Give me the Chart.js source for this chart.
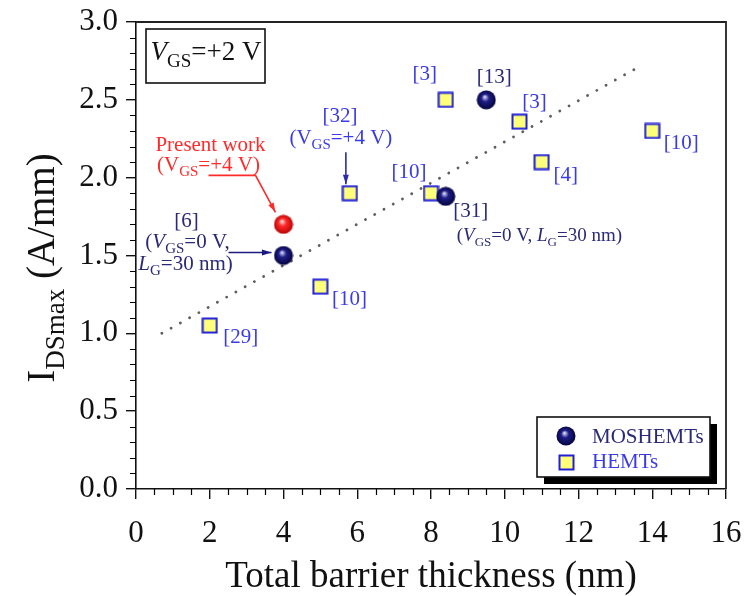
<!DOCTYPE html>
<html>
<head>
<meta charset="utf-8">
<script src="https://cdn.jsdelivr.net/npm/chart.js@4.4.0/dist/chart.umd.min.js"></script>
<style>
  html, body { margin: 0; padding: 0; background: #fff; }
  #c { display: block; }
</style>
</head>
<body>
<canvas id="c" width="745" height="596"></canvas>
<script>
// values
const moshemtX = [4, 8.4, 9.5];
const moshemtY = [1.5, 1.88, 2.5];
const moshemtRefs = ["[6]", "[31]", "[13]"];

const presentX = [4];
const presentY = [1.7];

const hemtX = [2, 5, 5.8, 8, 8.4, 10.4, 11, 14];
const hemtY = [1.05, 1.3, 1.9, 1.9, 2.5, 2.36, 2.1, 2.3];
const hemtRefs = ["[29]", "[10]", "[32]", "[10]", "[3]", "[3]", "[4]", "[10]"];

const trendX = [0.7, 13.7];
const trendY = [1.0, 2.72];

const xRange = [0, 16];
const yRange = [0, 3];

const SERIF = "'Liberation Serif', 'DejaVu Serif', serif";
const BLUE = "#3a3ae6";
const NAVY = "#2a2a78";
const RED = "#ff2a2a";

function pts(xs, ys) {
  return xs.map((x, i) => ({ x: x, y: ys[i] }));
}

function ball(hi, mid, edge) {
  const cv = document.createElement("canvas");
  cv.width = cv.height = 20;
  const g = cv.getContext("2d");
  const grd = g.createRadialGradient(8.5, 7, 0.5, 10, 10, 10);
  grd.addColorStop(0, hi);
  grd.addColorStop(0.35, mid);
  grd.addColorStop(1, edge);
  g.fillStyle = grd;
  g.beginPath();
  g.arc(10, 10, 9.5, 0, Math.PI * 2);
  g.fill();
  return cv;
}

function square() {
  const cv = document.createElement("canvas");
  cv.width = cv.height = 17;
  const g = cv.getContext("2d");
  g.fillStyle = "#ffff7a";
  g.fillRect(1, 1, 15, 15);
  g.strokeStyle = "#2020d8";
  g.lineWidth = 2;
  g.strokeRect(1.5, 1.5, 14, 14);
  return cv;
}

const navyBall = ball("#d4d4f4", "#1e1e88", "#03033a");
const redBall = ball("#ffd8d8", "#ff2a2a", "#b40000");
const hemtBox = square();

// text with subscripts; parts: [text, sub?, italic?]
function rich(ctx, parts, x, y, size, color, align) {
  const subSize = Math.round(size * 0.7);
  let w = 0;
  parts.forEach(p => {
    ctx.font = (p[2] ? "italic " : "") + (p[1] ? subSize : size) + "px " + SERIF;
    w += ctx.measureText(p[0]).width;
  });
  let cx = align === "left" ? x : x - w / 2;
  ctx.fillStyle = color;
  ctx.textAlign = "left";
  ctx.textBaseline = "middle";
  parts.forEach(p => {
    ctx.font = (p[2] ? "italic " : "") + (p[1] ? subSize : size) + "px " + SERIF;
    ctx.fillText(p[0], cx, y + (p[1] ? size * 0.32 : 0));
    cx += ctx.measureText(p[0]).width;
  });
}

function arrow(ctx, path, color) {
  ctx.strokeStyle = color;
  ctx.fillStyle = color;
  ctx.lineWidth = 1.6;
  ctx.beginPath();
  path.forEach((p, i) => (i ? ctx.lineTo(p[0], p[1]) : ctx.moveTo(p[0], p[1])));
  ctx.stroke();
  const a = path[path.length - 2], b = path[path.length - 1];
  const ang = Math.atan2(b[1] - a[1], b[0] - a[0]);
  ctx.beginPath();
  ctx.moveTo(b[0], b[1]);
  ctx.lineTo(b[0] - 10 * Math.cos(ang - 0.3), b[1] - 10 * Math.sin(ang - 0.3));
  ctx.lineTo(b[0] - 10 * Math.cos(ang + 0.3), b[1] - 10 * Math.sin(ang + 0.3));
  ctx.closePath();
  ctx.fill();
}

// label offsets in pixels from each mark
const hemtLabelOff = [[31, 12], [29, 13], [-10, -77], [-22, -21], [-21, -25], [15, -19], [24, 13], [29, 13]];
const moshemtLabelOff = [[-97, -34], [25, 15], [8, -22]];

const decorations = {
  id: "decorations",
  beforeDatasetsDraw(chart) {
    const ctx = chart.ctx, a = chart.chartArea;
    const xs = chart.scales.x, ys = chart.scales.y;
    ctx.save();
    ctx.strokeStyle = "#222";
    ctx.lineWidth = 1.8;
    ctx.beginPath();
    ctx.moveTo(a.left, a.top);
    ctx.lineTo(a.right, a.top);
    ctx.lineTo(a.right, a.bottom);
    ctx.stroke();
    // minor ticks
    ctx.lineWidth = 1.2;
    ctx.strokeStyle = "#000";
    ctx.beginPath();
    for (let v = 0.5; v < 16; v += 0.5) {
      if (v % 2 === 0) continue;
      const px = Math.round(xs.getPixelForValue(v)) + 0.5;
      ctx.moveTo(px, a.bottom);
      ctx.lineTo(px, a.bottom + 6);
    }
    for (let k = 1; k < 30; k++) {
      if (k % 5 === 0) continue;
      const py = Math.round(ys.getPixelForValue(k / 10)) + 0.5;
      ctx.moveTo(a.left, py);
      ctx.lineTo(a.left - 6, py);
    }
    ctx.stroke();
    ctx.restore();
  },
  afterDraw(chart) {
    const ctx = chart.ctx, a = chart.chartArea;
    const xs = chart.scales.x, ys = chart.scales.y;
    const P = (x, y) => [xs.getPixelForValue(x), ys.getPixelForValue(y)];
    ctx.save();

    // axis titles
    ctx.fillStyle = "#111";
    ctx.font = "37px " + SERIF;
    ctx.textAlign = "center";
    ctx.textBaseline = "middle";
    ctx.fillText("Total barrier thickness (nm)", (a.left + a.right) / 2, 577);
    ctx.save();
    ctx.translate(44, 268);
    ctx.rotate(-Math.PI / 2);
    rich(ctx, [["I"], ["DSmax", true], [" (A/mm)"]], 0, 0, 39, "#111");
    ctx.restore();

    // V_GS box
    ctx.strokeStyle = "#111";
    ctx.lineWidth = 1.6;
    ctx.strokeRect(146, 29, 119, 54);
    rich(ctx, [["V", false, true], ["GS", true], ["=+2 V"]], 206, 53, 27, "#111");

    // HEMT reference labels
    hemtRefs.forEach((r, i) => {
      const p = P(hemtX[i], hemtY[i]);
      rich(ctx, [[r]], p[0] + hemtLabelOff[i][0], p[1] + hemtLabelOff[i][1], 21, BLUE);
    });
    {
      const p = P(hemtX[2], hemtY[2]);
      rich(ctx, [["(V"], ["GS", true], ["=+4 V)"]], p[0] - 9, p[1] - 55, 21, BLUE);
      arrow(ctx, [[p[0] - 4, p[1] - 41], [p[0] - 4, p[1] - 9]], "#2a2ab0");
    }

    // MOSHEMT reference labels
    moshemtRefs.forEach((r, i) => {
      const p = P(moshemtX[i], moshemtY[i]);
      rich(ctx, [[r]], p[0] + moshemtLabelOff[i][0], p[1] + moshemtLabelOff[i][1], 21, NAVY);
    });
    {
      const p = P(moshemtX[0], moshemtY[0]);
      rich(ctx, [["("], ["V", false, true], ["GS", true], ["=0 V,"]], p[0] - 96, p[1] - 13, 21, NAVY);
      rich(ctx, [["L", false, true], ["G", true], ["=30 nm)"]], p[0] - 98, p[1] + 9, 21, NAVY);
      arrow(ctx, [[p[0] - 55, p[1] - 3], [p[0] - 12, p[1] - 3]], "#1a1a80");
      const q = P(moshemtX[1], moshemtY[1]);
      rich(ctx, [["("], ["V", false, true], ["GS", true], ["=0 V, "], ["L", false, true], ["G", true], ["=30 nm)"]],
        q[0] + 11, q[1] + 40, 19, NAVY, "left");
    }

    // present work
    {
      const p = P(presentX[0], presentY[0]);
      rich(ctx, [["Present work"]], p[0] - 73, p[1] - 79, 21, RED);
      rich(ctx, [["(V"], ["GS", true], ["=+4 V)"]], p[0] - 75, p[1] - 59, 21, RED);
      arrow(ctx, [[p[0] - 75, p[1] - 49], [p[0] - 28, p[1] - 49], [p[0] - 8, p[1] - 12]], "#ff2a2a");
    }

    // legend with shadow
    const lx = 537, ly = 417, lw = 173, lh = 60;
    ctx.fillStyle = "#000";
    ctx.fillRect(lx + 7, ly + 7, lw, lh);
    ctx.fillStyle = "#fff";
    ctx.fillRect(lx, ly, lw, lh);
    ctx.strokeStyle = "#111";
    ctx.lineWidth = 1.6;
    ctx.strokeRect(lx, ly, lw, lh);
    const ds = chart.data.datasets;
    ctx.drawImage(navyBall, lx + 19, ly + 9);
    rich(ctx, [[ds[1].label]], lx + 55, ly + 20, 21, NAVY, "left");
    ctx.drawImage(hemtBox, lx + 21, ly + 37);
    rich(ctx, [[ds[3].label]], lx + 55, ly + 45, 21, BLUE, "left");

    ctx.restore();
  }
};

function noPad(s) {
  s.paddingLeft = 0;
  s.paddingRight = 0;
  s.paddingTop = 0;
  s.paddingBottom = 0;
}

new Chart(document.getElementById("c"), {
  type: "scatter",
  data: {
    datasets: [
      {
        label: "trend",
        data: pts(trendX, trendY),
        showLine: true,
        borderColor: "#5e5e5e",
        borderWidth: 2.8,
        borderDash: [0.1, 10.5],
        borderCapStyle: "round",
        pointRadius: 0,
        order: 4
      },
      {
        label: "MOSHEMTs",
        data: pts(moshemtX, moshemtY),
        pointStyle: navyBall,
        order: 2
      },
      {
        label: "Present work",
        data: pts(presentX, presentY),
        pointStyle: redBall,
        order: 1
      },
      {
        label: "HEMTs",
        data: pts(hemtX, hemtY),
        pointStyle: hemtBox,
        order: 3
      }
    ]
  },
  options: {
    responsive: false,
    animation: false,
    layout: { padding: { top: 22, right: 19, left: 0, bottom: 0 } },
    plugins: { legend: { display: false }, tooltip: { enabled: false } },
    scales: {
      x: {
        type: "linear",
        min: xRange[0],
        max: xRange[1],
        afterFit: s => { s.height = 107; noPad(s); },
        border: { display: true, color: "#111", width: 1.6 },
        grid: { drawOnChartArea: false, drawTicks: true, tickLength: 10, color: "#111", lineWidth: 1.4 },
        ticks: { stepSize: 2, color: "#111", padding: 16, font: { family: SERIF, size: 31 } }
      },
      y: {
        type: "linear",
        min: yRange[0],
        max: yRange[1],
        afterFit: s => { s.width = 136; noPad(s); },
        border: { display: true, color: "#111", width: 1.6 },
        grid: { drawOnChartArea: false, drawTicks: true, tickLength: 10, color: "#111", lineWidth: 1.4 },
        ticks: { stepSize: 0.5, color: "#111", padding: 8, font: { family: SERIF, size: 31 }, callback: v => v.toFixed(1) }
      }
    }
  },
  plugins: [decorations]
});
</script>
</body>
</html>
